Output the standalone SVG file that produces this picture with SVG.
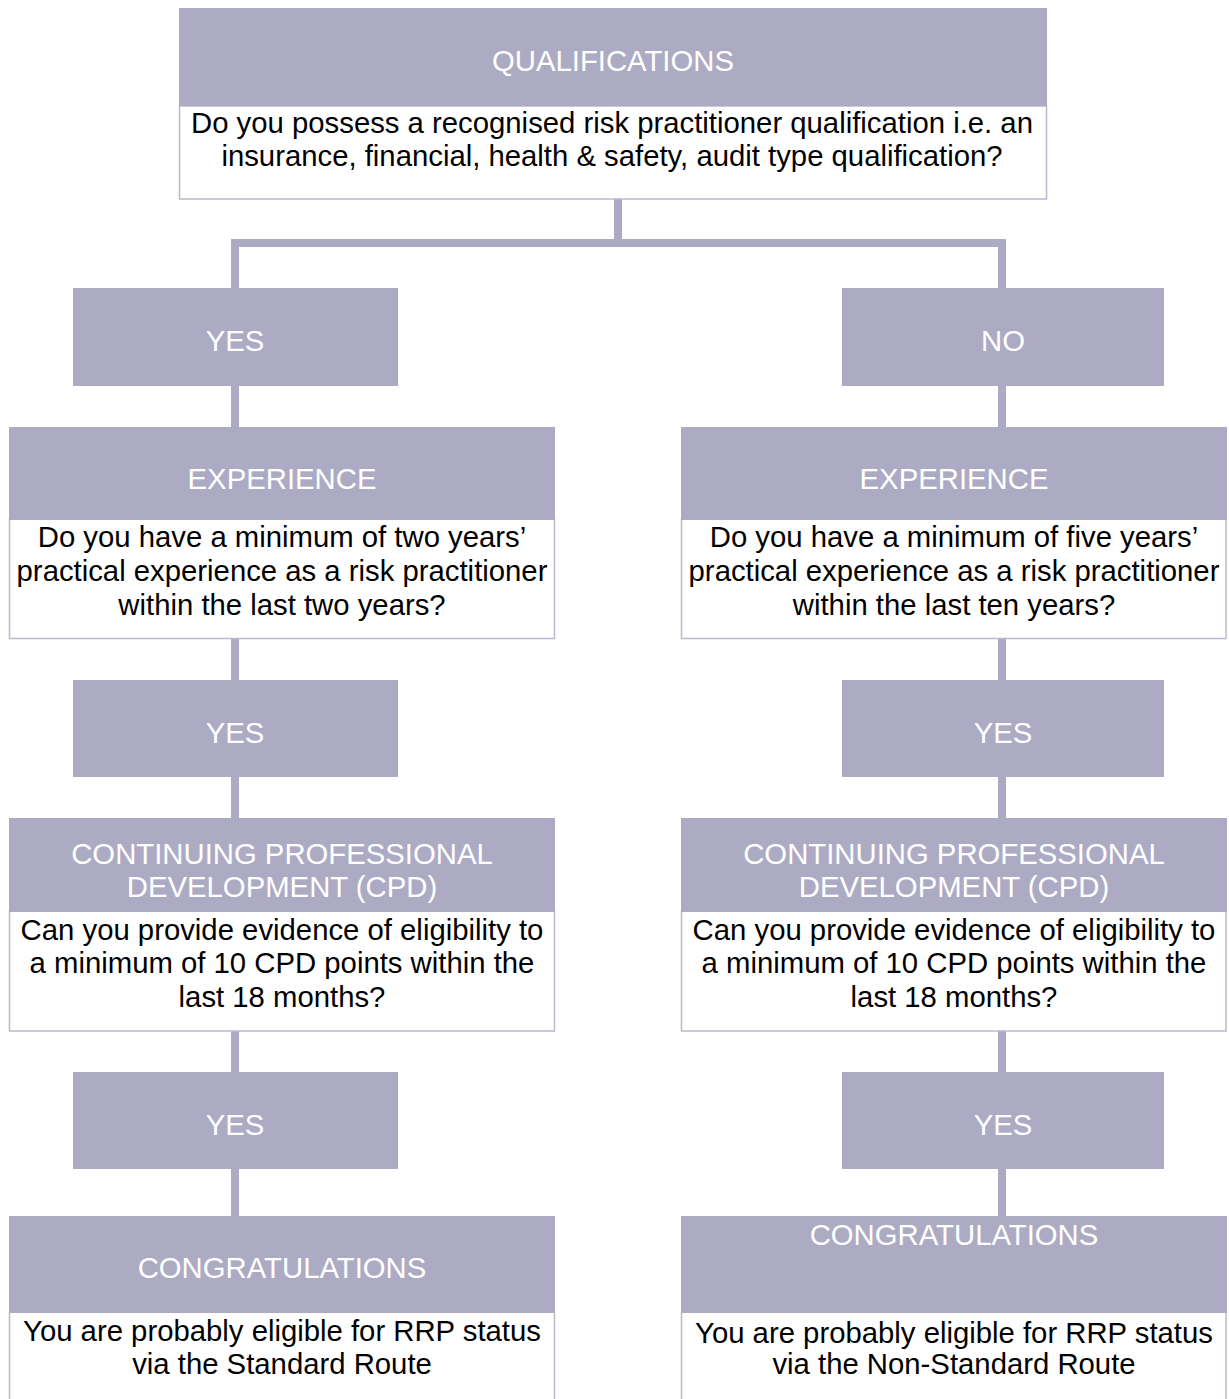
<svg xmlns="http://www.w3.org/2000/svg" width="1229" height="1399" viewBox="0 0 1229 1399">
<style>
.hd{fill:#ADABC4}
.bd{fill:#FFFFFF;stroke:#BAB8CE;stroke-width:1.5}
.ht{font-family:"Liberation Sans",Arial,sans-serif;font-size:29.3px;fill:#FFFFFF;text-anchor:middle}
.bt{font-family:"Liberation Sans",Arial,sans-serif;font-size:29.3px;fill:#000000;text-anchor:middle}
.cn{stroke:#ADABC4;stroke-width:8;fill:none}
</style>
<rect width="1229" height="1399" fill="#FFFFFF"/>
<g id="connectors">
<path class="cn" d="M618,199 V243 M231,243 H1006 M235,243 V288 M1002,243 V288"/>
<path class="cn" d="M235,386 V427 M235,639 V680 M235,777 V818 M235,1031 V1072 M235,1169 V1216"/>
<path class="cn" d="M1002,386 V427 M1002,639 V680 M1002,777 V818 M1002,1031 V1072 M1002,1169 V1216"/>
</g>
<g id="qualifications">
<rect class="bd" x="179.5" y="106" width="867" height="93"/>
<rect class="hd" x="179" y="8" width="868" height="98"/>
<text class="ht" x="613" y="71">QUALIFICATIONS</text>
<text class="bt" x="612" y="133">Do you possess a recognised risk practitioner qualification i.e. an</text>
<text class="bt" x="612" y="166">insurance, financial, health &amp; safety, audit type qualification?</text>
</g>
<g id="yes1">
<rect class="hd" x="73" y="288" width="325" height="98"/>
<text class="ht" x="235" y="351">YES</text>
</g>
<g id="no1">
<rect class="hd" x="842" y="288" width="322" height="98"/>
<text class="ht" x="1003" y="351">NO</text>
</g>
<g id="experience-left">
<rect class="bd" x="9.5" y="519" width="545" height="119.5"/>
<rect class="hd" x="9" y="427" width="546" height="93"/>
<text class="ht" x="282" y="489">EXPERIENCE</text>
<text class="bt" x="282" y="547">Do you have a minimum of two years’</text>
<text class="bt" x="282" y="581">practical experience as a risk practitioner</text>
<text class="bt" x="282" y="615">within the last two years?</text>
</g>
<g id="experience-right">
<rect class="bd" x="681.5" y="519" width="544.5" height="119.5"/>
<rect class="hd" x="681" y="427" width="546" height="93"/>
<text class="ht" x="954" y="489">EXPERIENCE</text>
<text class="bt" x="954" y="547">Do you have a minimum of five years’</text>
<text class="bt" x="954" y="581">practical experience as a risk practitioner</text>
<text class="bt" x="954" y="615">within the last ten years?</text>
</g>
<g id="yes2-left">
<rect class="hd" x="73" y="680" width="325" height="97"/>
<text class="ht" x="235" y="743">YES</text>
</g>
<g id="yes2-right">
<rect class="hd" x="842" y="680" width="322" height="97"/>
<text class="ht" x="1003" y="743">YES</text>
</g>
<g id="cpd-left">
<rect class="bd" x="9.5" y="911" width="545" height="120"/>
<rect class="hd" x="9" y="818" width="546" height="94"/>
<text class="ht" x="282" y="864">CONTINUING PROFESSIONAL</text>
<text class="ht" x="282" y="897">DEVELOPMENT (CPD)</text>
<text class="bt" x="282" y="940">Can you provide evidence of eligibility to</text>
<text class="bt" x="282" y="973">a minimum of 10 CPD points within the</text>
<text class="bt" x="282" y="1007">last 18 months?</text>
</g>
<g id="cpd-right">
<rect class="bd" x="681.5" y="911" width="544.5" height="120"/>
<rect class="hd" x="681" y="818" width="546" height="94"/>
<text class="ht" x="954" y="864">CONTINUING PROFESSIONAL</text>
<text class="ht" x="954" y="897">DEVELOPMENT (CPD)</text>
<text class="bt" x="954" y="940">Can you provide evidence of eligibility to</text>
<text class="bt" x="954" y="973">a minimum of 10 CPD points within the</text>
<text class="bt" x="954" y="1007">last 18 months?</text>
</g>
<g id="yes3-left">
<rect class="hd" x="73" y="1072" width="325" height="97"/>
<text class="ht" x="235" y="1135">YES</text>
</g>
<g id="yes3-right">
<rect class="hd" x="842" y="1072" width="322" height="97"/>
<text class="ht" x="1003" y="1135">YES</text>
</g>
<g id="congratulations-left">
<rect class="bd" x="9.5" y="1312" width="545" height="100"/>
<rect class="hd" x="9" y="1216" width="546" height="97"/>
<text class="ht" x="282" y="1278">CONGRATULATIONS</text>
<text class="bt" x="282" y="1341">You are probably eligible for RRP status</text>
<text class="bt" x="282" y="1374">via the Standard Route</text>
</g>
<g id="congratulations-right">
<rect class="bd" x="681.5" y="1312" width="544.5" height="100"/>
<rect class="hd" x="681" y="1216" width="546" height="97"/>
<text class="ht" x="954" y="1245">CONGRATULATIONS</text>
<text class="bt" x="954" y="1343">You are probably eligible for RRP status</text>
<text class="bt" x="954" y="1374">via the Non-Standard Route</text>
</g>
</svg>
